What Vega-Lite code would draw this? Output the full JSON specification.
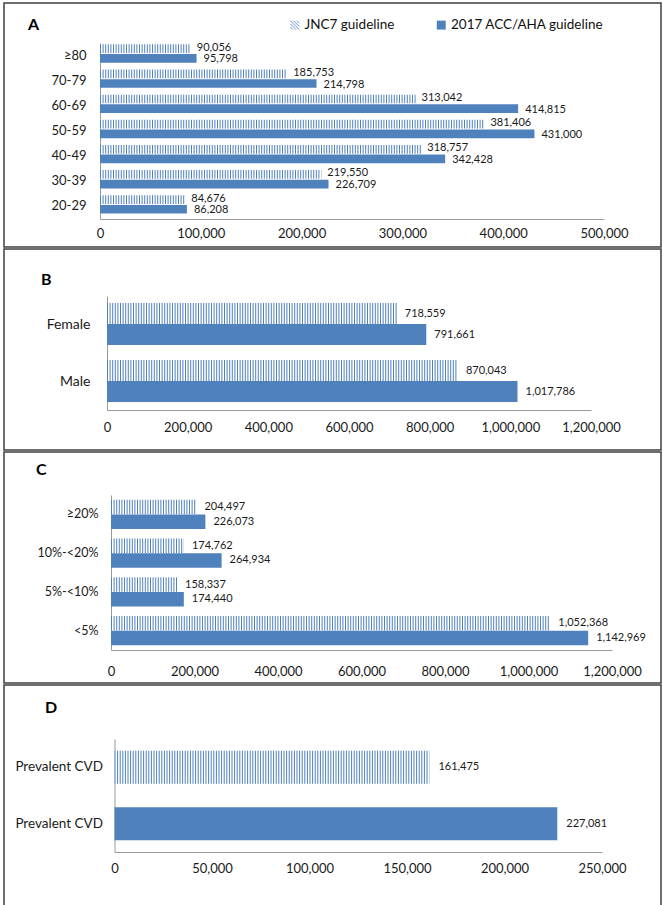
{
  "$schema": "https://vega.github.io/schema/vega-lite/v6.json",
  "padding": {"left": 3, "top": 2, "right": 3, "bottom": 2},
  "background": "white",
  "spacing": 0,
  "data": {"values": [
    {"panel": "A", "group": "≥80", "guideline": "JNC7 guideline", "value": 90056},
    {"panel": "A", "group": "≥80", "guideline": "2017 ACC/AHA guideline", "value": 95798},
    {"panel": "A", "group": "70-79", "guideline": "JNC7 guideline", "value": 185753},
    {"panel": "A", "group": "70-79", "guideline": "2017 ACC/AHA guideline", "value": 214798},
    {"panel": "A", "group": "60-69", "guideline": "JNC7 guideline", "value": 313042},
    {"panel": "A", "group": "60-69", "guideline": "2017 ACC/AHA guideline", "value": 414815},
    {"panel": "A", "group": "50-59", "guideline": "JNC7 guideline", "value": 381406},
    {"panel": "A", "group": "50-59", "guideline": "2017 ACC/AHA guideline", "value": 431000},
    {"panel": "A", "group": "40-49", "guideline": "JNC7 guideline", "value": 318757},
    {"panel": "A", "group": "40-49", "guideline": "2017 ACC/AHA guideline", "value": 342428},
    {"panel": "A", "group": "30-39", "guideline": "JNC7 guideline", "value": 219550},
    {"panel": "A", "group": "30-39", "guideline": "2017 ACC/AHA guideline", "value": 226709},
    {"panel": "A", "group": "20-29", "guideline": "JNC7 guideline", "value": 84676},
    {"panel": "A", "group": "20-29", "guideline": "2017 ACC/AHA guideline", "value": 86208},
    {"panel": "B", "group": "Female", "guideline": "JNC7 guideline", "value": 718559},
    {"panel": "B", "group": "Female", "guideline": "2017 ACC/AHA guideline", "value": 791661},
    {"panel": "B", "group": "Male", "guideline": "JNC7 guideline", "value": 870043},
    {"panel": "B", "group": "Male", "guideline": "2017 ACC/AHA guideline", "value": 1017786},
    {"panel": "C", "group": "≥20%", "guideline": "JNC7 guideline", "value": 204497},
    {"panel": "C", "group": "≥20%", "guideline": "2017 ACC/AHA guideline", "value": 226073},
    {"panel": "C", "group": "10%-<20%", "guideline": "JNC7 guideline", "value": 174762},
    {"panel": "C", "group": "10%-<20%", "guideline": "2017 ACC/AHA guideline", "value": 264934},
    {"panel": "C", "group": "5%-<10%", "guideline": "JNC7 guideline", "value": 158337},
    {"panel": "C", "group": "5%-<10%", "guideline": "2017 ACC/AHA guideline", "value": 174440},
    {"panel": "C", "group": "<5%", "guideline": "JNC7 guideline", "value": 1052368},
    {"panel": "C", "group": "<5%", "guideline": "2017 ACC/AHA guideline", "value": 1142969},
    {"panel": "D", "group": "Prevalent CVD", "guideline": "JNC7 guideline", "value": 161475},
    {"panel": "D", "group": "Prevalent CVD", "guideline": "2017 ACC/AHA guideline", "value": 227081}
  ]},
  "resolve": {"scale": {"fill": "independent", "yOffset": "independent", "x": "independent", "y": "independent"}, "legend": {"fill": "independent"}},
  "vconcat": [
    {
      "transform": [{"filter": "datum.panel === 'A'"}],
      "width": 657, "height": 244,
      "title": {"text": "A", "anchor": "start", "frame": "group", "dx": 24, "dy": 34, "fontSize": 16, "fontWeight": "bold", "font": "Lato", "color": "#000"},
      "encoding": {
        "y": {"field": "group", "type": "nominal", "sort": ["≥80", "70-79", "60-69", "50-59", "40-49", "30-39", "20-29"],
              "scale": {"range": [40, 216], "paddingInner": 0, "paddingOuter": 0},
              "axis": {"title": null, "offset": -96, "labelPadding": 14, "ticks": false, "domainColor": "#9a9a9a", "labelFontSize": 13}},
        "yOffset": {"field": "guideline", "sort": ["JNC7 guideline", "2017 ACC/AHA guideline"],
                    "scale": {"paddingInner": 0.1, "paddingOuter": 0.35, "align": 0.2}},
        "x": {"field": "value", "type": "quantitative",
              "scale": {"domain": [0, 500000], "range": [96, 600], "nice": false, "zero": true},
              "axis": {"title": null, "values": [0, 100000, 200000, 300000, 400000, 500000], "format": ",d", "grid": false, "ticks": false, "offset": -28, "labelPadding": 8, "domainColor": "#9a9a9a", "labelFontSize": 13, "labelFlush": false, "labelOverlap": false}}
      },
      "layer": [
        {"mark": {"type": "bar"},
         "encoding": {"fill": {"field": "guideline", "type": "nominal",
            "scale": {"domain": ["JNC7 guideline", "2017 ACC/AHA guideline"], "range": ["#ffffff", "#4f81bd"]},
            "legend": {"orient": "none", "legendX": 284, "legendY": 15, "direction": "horizontal", "title": null, "columnPadding": 39.5, "labelFontSize": 13.5, "labelFont": "Lato", "labelColor": "#111", "symbolSize": 80, "labelOffset": 3, "padding": 0,
              "encode": {"symbols": {"update": {
                "shape": {"signal": "datum.value === 'JNC7 guideline' ? 'M-1,-1L1,1M-0.3,-1L1,0.3M0.4,-1L1,-0.4M-1,-0.3L0.3,1M-1,0.4L-0.4,1' : 'square'"},
                "fill": {"signal": "datum.value === 'JNC7 guideline' ? 'transparent' : '#4f81bd'"},
                "stroke": {"signal": "datum.value === 'JNC7 guideline' ? '#6a95cc' : 'transparent'"},
                "strokeWidth": {"value": 1}
              }}}}}}},
        {"transform": [{"filter": "datum.guideline === 'JNC7 guideline'"}],
         "mark": {"type": "rule", "strokeWidth": 8.7, "strokeDash": [1, 1.6], "color": "#4f81bd"},
         "encoding": {"x": {"datum": 0}, "x2": {"field": "value"}}},
        {"transform": [{"filter": "datum.guideline === 'JNC7 guideline'"}],
         "mark": {"type": "text", "align": "left", "dx": 6, "dy": -1, "fontSize": 11, "color": "#1a1a1a"},
         "encoding": {"text": {"field": "value", "type": "quantitative", "format": ",d"}}},
        {"transform": [{"filter": "datum.guideline !== 'JNC7 guideline'"}],
         "mark": {"type": "text", "align": "left", "dx": 7, "dy": 1, "fontSize": 11, "color": "#1a1a1a"},
         "encoding": {"text": {"field": "value", "type": "quantitative", "format": ",d"}}}
      ]
    },
    {
      "transform": [{"filter": "datum.panel === 'B'"}],
      "width": 657, "height": 201,
      "title": {"text": "B", "anchor": "start", "frame": "group", "dx": 37, "dy": 43, "fontSize": 16, "fontWeight": "bold", "font": "Lato", "color": "#000"},
      "encoding": {
        "y": {"field": "group", "type": "nominal", "sort": ["Female", "Male"],
              "scale": {"range": [47, 161], "paddingInner": 0, "paddingOuter": 0},
              "axis": {"title": null, "offset": -103, "labelPadding": 17, "ticks": false, "domainColor": "#9a9a9a", "labelFontSize": 14}},
        "yOffset": {"field": "guideline", "sort": ["JNC7 guideline", "2017 ACC/AHA guideline"],
                    "scale": {"paddingInner": 0, "paddingOuter": 0.357, "align": 0.47}},
        "x": {"field": "value", "type": "quantitative",
              "scale": {"domain": [0, 1200000], "range": [103, 587], "nice": false},
              "axis": {"title": null, "values": [0, 200000, 400000, 600000, 800000, 1000000, 1200000], "format": ",d", "grid": false, "ticks": false, "offset": -40, "labelPadding": 11, "domainColor": "#9a9a9a", "labelFontSize": 13, "labelFlush": false, "labelOverlap": false}}
      },
      "layer": [
        {"mark": {"type": "bar"},
         "encoding": {"fill": {"field": "guideline", "type": "nominal",
            "scale": {"domain": ["JNC7 guideline", "2017 ACC/AHA guideline"], "range": ["#ffffff", "#4f81bd"]}, "legend": null}}},
        {"transform": [{"filter": "datum.guideline === 'JNC7 guideline'"}],
         "mark": {"type": "rule", "strokeWidth": 21, "strokeDash": [1, 1.6], "color": "#4f81bd"},
         "encoding": {"x": {"datum": 0}, "x2": {"field": "value"}}},
        {"mark": {"type": "text", "align": "left", "dx": 8, "fontSize": 11, "color": "#1a1a1a"},
         "encoding": {"text": {"field": "value", "type": "quantitative", "format": ",d"}}}
      ]
    },
    {
      "transform": [{"filter": "datum.panel === 'C'"}],
      "width": 657, "height": 231,
      "title": {"text": "C", "anchor": "start", "frame": "group", "dx": 32, "dy": 30, "fontSize": 16, "fontWeight": "bold", "font": "Lato", "color": "#000"},
      "encoding": {
        "y": {"field": "group", "type": "nominal", "sort": ["≥20%", "10%-<20%", "5%-<10%", "<5%"],
              "scale": {"range": [43, 198], "paddingInner": 0, "paddingOuter": 0},
              "axis": {"title": null, "offset": -107, "labelPadding": 13, "ticks": false, "domainColor": "#9a9a9a", "labelFontSize": 12.5}},
        "yOffset": {"field": "guideline", "sort": ["JNC7 guideline", "2017 ACC/AHA guideline"],
                    "scale": {"paddingInner": 0, "paddingOuter": 0.336, "align": 0.5}},
        "x": {"field": "value", "type": "quantitative",
              "scale": {"domain": [0, 1200000], "range": [107, 608], "nice": false},
              "axis": {"title": null, "values": [0, 200000, 400000, 600000, 800000, 1000000, 1200000], "format": ",d", "grid": false, "ticks": false, "offset": -33, "labelPadding": 15, "domainColor": "#9a9a9a", "labelFontSize": 13, "labelFlush": false, "labelOverlap": false}}
      },
      "layer": [
        {"mark": {"type": "bar"},
         "encoding": {"fill": {"field": "guideline", "type": "nominal",
            "scale": {"domain": ["JNC7 guideline", "2017 ACC/AHA guideline"], "range": ["#ffffff", "#4f81bd"]}, "legend": null}}},
        {"transform": [{"filter": "datum.guideline === 'JNC7 guideline'"}],
         "mark": {"type": "rule", "strokeWidth": 14.5, "strokeDash": [1, 1.6], "color": "#4f81bd"},
         "encoding": {"x": {"datum": 0}, "x2": {"field": "value"}}},
        {"mark": {"type": "text", "align": "left", "dx": 8, "fontSize": 11, "color": "#1a1a1a"},
         "encoding": {"text": {"field": "value", "type": "quantitative", "format": ",d"}}}
      ]
    },
    {
      "transform": [{"filter": "datum.panel === 'D'"}],
      "width": 657, "height": 224,
      "title": {"text": "D", "anchor": "start", "frame": "group", "dx": 41, "dy": 35, "fontSize": 16, "fontWeight": "bold", "font": "Lato", "color": "#000"},
      "encoding": {
        "y": {"field": "guideline", "type": "nominal", "sort": ["JNC7 guideline", "2017 ACC/AHA guideline"],
              "scale": {"range": [54, 167], "paddingInner": 0.42, "paddingOuter": 0.21, "align": 0.5},
              "axis": {"title": null, "offset": -110.5, "labelPadding": 12, "ticks": false, "domainColor": "#9a9a9a", "labelFontSize": 13.5, "labelExpr": "'Prevalent CVD'"}},
        "x": {"field": "value", "type": "quantitative",
              "scale": {"domain": [0, 250000], "range": [110.5, 598], "nice": false},
              "axis": {"title": null, "values": [0, 50000, 100000, 150000, 200000, 250000], "format": ",d", "grid": false, "ticks": false, "offset": -57, "labelPadding": 10, "domainColor": "#9a9a9a", "labelFontSize": 13, "labelFlush": false, "labelOverlap": false}}
      },
      "layer": [
        {"mark": {"type": "bar"},
         "encoding": {"fill": {"field": "guideline", "type": "nominal",
            "scale": {"domain": ["JNC7 guideline", "2017 ACC/AHA guideline"], "range": ["#ffffff", "#4f81bd"]}, "legend": null}}},
        {"transform": [{"filter": "datum.guideline === 'JNC7 guideline'"}],
         "mark": {"type": "rule", "strokeWidth": 33, "strokeDash": [1, 1.6], "color": "#4f81bd"},
         "encoding": {"x": {"datum": 0}, "x2": {"field": "value"}}},
        {"mark": {"type": "text", "align": "left", "dx": 9, "fontSize": 11, "color": "#1a1a1a"},
         "encoding": {"text": {"field": "value", "type": "quantitative", "format": ",d"}}}
      ]
    }
  ],
  "config": {
    "font": "Lato",
    "view": {"stroke": "#404040", "strokeWidth": 1.5},
    "axis": {"labelFont": "Lato", "labelColor": "#1a1a1a", "domainWidth": 1},
    "title": {"offset": 0, "baseline": "middle"}
  }
}
